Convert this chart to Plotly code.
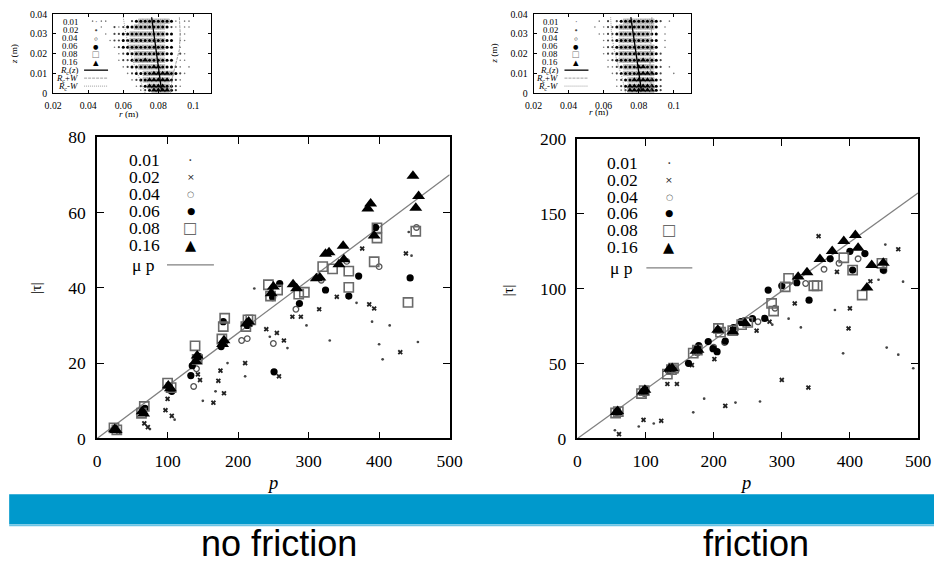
import plotly.graph_objects as go

# ---------------- data: main plots (p, |tau|) ----------------
SERIES = ["0.01", "0.02", "0.04", "0.06", "0.08", "0.16"]

# no friction
NF_P_001 = [33, 75, 110, 150, 168, 185, 210, 223, 245, 270, 297, 330, 368, 390, 400, 405, 415, 442, 446, 455]
NF_T_001 = [1.3, 2.5, 5.0, 10.0, 12.5, 20.0, 16.5, 39.8, 27.0, 24.0, 30.0, 26.0, 36.0, 31.0, 25.0, 21.0, 30.0, 54.8, 48.5, 25.6]
NF_P_002 = [30, 67, 72, 97, 100, 106, 143, 146, 165, 172, 175, 180, 210, 240, 255, 265, 258, 277, 289, 315, 340, 376, 386, 393, 430, 438]
NF_T_002 = [1.8, 4.0, 3.0, 7.5, 10.5, 6.0, 17.0, 15.5, 9.5, 15.3, 18.0, 12.0, 20.0, 29.0, 28.0, 26.0, 16.5, 32.3, 32.3, 34.3, 37.6, 50.4, 35.6, 34.5, 22.9, 49.1]
NF_P_004 = [27, 66, 103, 137, 141, 181, 205, 213, 250, 282, 318, 354, 400, 453]
NF_T_004 = [2.4, 7.0, 12.8, 13.8, 18.5, 25.5, 26.0, 26.5, 25.2, 34.3, 42.0, 47.0, 45.6, 56.0]
NF_P_006 = [26, 65, 68, 102, 106, 133, 135, 145, 176, 179, 213, 216, 249, 251, 259, 287, 324, 357, 371, 395, 444]
NF_T_006 = [2.6, 7.5, 8.0, 13.8, 12.5, 16.7, 19.3, 21.7, 24.4, 31.0, 30.0, 30.5, 37.4, 17.7, 41.1, 35.8, 39.4, 37.8, 43.1, 56.0, 42.6]
NF_P_008 = [24, 28, 63, 67, 100, 105, 139, 142, 177, 179, 181, 211, 214, 218, 243, 246, 256, 286, 294, 320, 334, 357, 357, 393, 397, 397, 441, 452]
NF_T_008 = [2.8, 2.3, 6.7, 8.5, 14.7, 13.5, 24.6, 21.0, 26.4, 29.7, 31.9, 29.7, 31.5, 31.5, 40.8, 37.8, 39.4, 38.3, 38.8, 45.6, 45.0, 44.4, 40.1, 46.9, 55.9, 53.2, 36.1, 55.0]
NF_P_016 = [25, 27, 64, 66, 101, 104, 140, 142, 178, 180, 212, 215, 247, 250, 278, 283, 311, 316, 324, 329, 343, 349, 350, 384, 388, 393, 448, 452, 456]
NF_T_016 = [2.5, 2.2, 7.2, 6.6, 14.0, 13.3, 20.5, 22.0, 25.0, 26.0, 30.5, 31.0, 38.5, 40.3, 40.9, 39.8, 42.5, 42.7, 49.0, 49.4, 46.2, 51.1, 47.5, 61.0, 62.3, 53.8, 69.7, 61.2, 64.3]
MU_NF = 0.14

# friction
FR_P_001 = [55, 90, 112, 170, 186, 232, 268, 286, 310, 328, 378, 390, 442, 452, 454, 471, 478, 493]
FR_T_001 = [5.5, 8.0, 10.0, 17.5, 26.6, 24.0, 24.7, 76.0, 80.0, 74.2, 85.8, 56.9, 106.0, 129.5, 60.7, 56.0, 104.7, 46.9]
FR_P_002 = [61, 97, 123, 132, 146, 168, 201, 217, 263, 282, 300, 319, 339, 354, 381, 398, 400, 430, 471]
FR_T_002 = [2.9, 12.4, 11.8, 36.4, 36.4, 49.0, 53.0, 21.8, 72.0, 78.0, 39.1, 90.2, 34.0, 135.1, 111.3, 73.5, 86.9, 105.0, 126.4]
FR_P_004 = [60, 98, 137, 145, 176, 200, 216, 232, 265, 290, 335, 362, 384, 412, 450]
FR_T_004 = [16.5, 30.0, 44.5, 45.5, 57.0, 61.0, 64.0, 73.0, 78.0, 87.0, 103.5, 113.0, 117.0, 120.0, 112.0]
FR_P_006 = [58, 97, 100, 134, 163, 175, 178, 192, 199, 205, 207, 217, 229, 240, 257, 275, 280, 300, 322, 340, 371, 400, 404, 422, 449]
FR_T_006 = [17.5, 31.5, 33.0, 45.0, 50.2, 60.0, 62.0, 64.7, 60.0, 58.0, 72.5, 65.0, 74.0, 78.0, 80.0, 80.2, 99.1, 102.0, 104.0, 92.4, 120.0, 125.0, 112.5, 123.5, 112.5]
FR_P_008 = [56, 60, 94, 98, 132, 138, 141, 170, 176, 207, 210, 228, 241, 250, 285, 288, 305, 310, 347, 352, 391, 404, 418, 447]
FR_T_008 = [17.0, 18.0, 30.0, 32.0, 43.0, 46.0, 47.0, 57.0, 59.0, 73.5, 71.0, 72.0, 76.0, 77.5, 90.2, 85.1, 101.3, 106.9, 102.0, 102.0, 120.7, 112.5, 95.8, 117.0]
FR_P_016 = [57, 59, 96, 99, 135, 139, 174, 177, 206, 228, 246, 324, 337, 356, 374, 391, 408, 412, 425, 432, 449]
FR_T_016 = [17.5, 18.2, 31.3, 32.5, 46.4, 47.0, 58.5, 59.1, 72.5, 71.3, 77.0, 108.0, 110.9, 119.8, 125.1, 131.8, 135.8, 127.3, 100.7, 115.8, 117.3]
MU_FR = 0.328
P_LINE = [0, 500]

# ---------------- data: insets (r, z grid) ----------------
R_COLS = [0.0425, 0.045, 0.0475, 0.05, 0.0525, 0.055, 0.0575, 0.06, 0.0625, 0.065, 0.0675, 0.07,
          0.0725, 0.075, 0.0775, 0.08, 0.0825, 0.085, 0.0875, 0.09, 0.0925, 0.095, 0.0975, 0.1]
Z_ROWS = [0.0365, 0.0335, 0.0300, 0.0267, 0.0233, 0.0200, 0.0167, 0.0133, 0.0100, 0.0067, 0.0035, 0.0015]
# '1','2','4','6' single class; '8' = 0.06+0.08 ; 'T' = 0.08+0.16
NF_GRID = [
    "1 11     26888888861 11 ",
    "  1  212668888888621 11 ",
    "   1 22668888888866 11  ",
    "    122668888888866 11  ",
    "     12668888888866 1   ",
    "      1266888888866 21  ",
    "      122688T888866 11  ",
    "       1266888TT86621 1 ",
    "        126688TTTT8621  ",
    "         1268TTTTT621   ",
    "          126TTTT8621   ",
    "           126TTTT62    ",
]
FR_GRID = [
    "      1 2 26888888862 1 ",
    "     1 1226888888886 1  ",
    "      11226888888866 1  ",
    "       1226888888866 1  ",
    "       1226888888886 1  ",
    "       12268888888862   ",
    "        12688888T8862   ",
    "        1126888TT8862 1 ",
    "         126888TTTT62  1",
    "          1268TTTTT62   ",
    "          126TTTTTT62   ",
    "           12TTTTTT62   ",
]
NF_RC_R = [0.0762, 0.0775, 0.0790, 0.0805, 0.0818]
NF_RC_Z = [0.0385, 0.0300, 0.0200, 0.0100, 0.0015]
NF_RP_R = [0.0920, 0.0925, 0.0920, 0.0900, 0.0880, 0.0870]
NF_RM_R = [0.0600, 0.0615, 0.0635, 0.0660, 0.0690, 0.0725]
FR_RC_R = [0.0755, 0.0768, 0.0785, 0.0800, 0.0815]
FR_RC_Z = [0.0385, 0.0300, 0.0200, 0.0100, 0.0015]
FR_RP_R = [0.0875, 0.0872, 0.0868, 0.0865, 0.0870, 0.0870]
FR_RM_R = [0.0640, 0.0645, 0.0660, 0.0680, 0.0705, 0.0725]
W_Z = [0.0385, 0.0300, 0.0220, 0.0150, 0.0080, 0.0000]

# ---------------- styling ----------------
# The page is photographed with an 8px body margin and slightly scaled; positions below
# are given in picture pixels and converted to paper fractions.
W, H = 947, 575
OX, OY = 8, 8
SX, SY = 0.978, 0.967
FS = 1.03
SERIF = "Liberation Serif, Times New Roman, serif"
SYM = "DejaVu Sans, sans-serif"


def px(x):
    return (x / SX - OX) / W


def py(y):
    return 1 - (y / SY - OY) / H


def f(s):
    return round(s * FS, 2)


MAIN_STYLE = {
    "0.01": dict(symbol="circle", size=2.7, color="#444444", line=dict(width=0)),
    "0.02": dict(symbol="x", size=4.6, color="#222222", line=dict(width=0)),
    "0.04": dict(symbol="circle-open", size=5.6, color="#555555", line=dict(width=1.3, color="#555555")),
    "0.06": dict(symbol="circle", size=7.2, color="black", line=dict(width=0)),
    "0.08": dict(symbol="square-open", size=9.2, color="#6a6a6a", line=dict(width=1.6, color="#6a6a6a")),
    "0.16": dict(symbol="triangle-up", size=11.3, color="black", line=dict(width=0)),
}
INSET_STYLE = {
    "1": dict(symbol="circle", size=1.6, color="#777777", line=dict(width=0)),
    "2": dict(symbol="circle", size=2.2, color="#444444", line=dict(width=0)),
    "4": dict(symbol="circle-open", size=2.8, color="#666666", line=dict(width=0.8, color="#666666")),
    "6": dict(symbol="circle", size=3.0, color="black", line=dict(width=0)),
    "8": dict(symbol="square", size=4.5, color="rgba(160,160,160,0.5)", line=dict(width=0.5, color="#999999")),
    "T": dict(symbol="triangle-up", size=5.3, color="black", line=dict(width=0)),
}

fig = go.Figure()

main_data = [
    ("x", "y", [(NF_P_001, NF_T_001), (NF_P_002, NF_T_002), (NF_P_004, NF_T_004),
                (NF_P_006, NF_T_006), (NF_P_008, NF_T_008), (NF_P_016, NF_T_016)], MU_NF),
    ("x2", "y2", [(FR_P_001, FR_T_001), (FR_P_002, FR_T_002), (FR_P_004, FR_T_004),
                  (FR_P_006, FR_T_006), (FR_P_008, FR_T_008), (FR_P_016, FR_T_016)], MU_FR),
]
for xa, ya, sets, mu in main_data:
    fig.add_trace(go.Scatter(x=P_LINE, y=[mu * p for p in P_LINE], mode="lines",
                             line=dict(color="#808080", width=1.3), xaxis=xa, yaxis=ya,
                             showlegend=False, hoverinfo="skip"))
    for name, (xs, ys) in zip(SERIES, sets):
        fig.add_trace(go.Scatter(x=xs, y=ys, mode="markers", marker=MAIN_STYLE[name],
                                 xaxis=xa, yaxis=ya, showlegend=False, name=name))


def grid_points(grid):
    pts = {k: ([], []) for k in "12468T"}
    for z, row in zip(Z_ROWS, grid):
        for r, ch in zip(R_COLS, row):
            if ch == " ":
                continue
            keys = {"8": ["6", "8"], "T": ["8", "T"]}.get(ch, [ch])
            for k in keys:
                pts[k][0].append(r)
                pts[k][1].append(z)
    return pts


inset_data = [
    ("x3", "y3", NF_GRID, NF_RC_R, NF_RC_Z, NF_RP_R, NF_RM_R),
    ("x4", "y4", FR_GRID, FR_RC_R, FR_RC_Z, FR_RP_R, FR_RM_R),
]
for xa, ya, grid, rc_r, rc_z, rp_r, rm_r in inset_data:
    pts = grid_points(grid)
    for k in ["1", "2", "4", "8", "6", "T"]:
        xs, ys = pts[k]
        if xs:
            fig.add_trace(go.Scatter(x=xs, y=ys, mode="markers", marker=INSET_STYLE[k],
                                     xaxis=xa, yaxis=ya, showlegend=False))
    fig.add_trace(go.Scatter(x=rp_r, y=W_Z, mode="lines", line=dict(color="#888888", width=0.8, dash="3px,1px"),
                             xaxis=xa, yaxis=ya, showlegend=False))
    fig.add_trace(go.Scatter(x=rm_r, y=W_Z, mode="lines", line=dict(color="#888888", width=0.8, dash="1px,1px"),
                             xaxis=xa, yaxis=ya, showlegend=False))
    fig.add_trace(go.Scatter(x=rc_r, y=rc_z, mode="lines", line=dict(color="black", width=1.3),
                             xaxis=xa, yaxis=ya, showlegend=False))

main_ax = dict(showline=True, linecolor="black", linewidth=1.5, mirror="ticks", ticks="inside",
               ticklen=7, tickwidth=1.2, tickcolor="black", showgrid=False, zeroline=False,
               tickfont=dict(family=SERIF, size=f(17), color="black"), fixedrange=True)
inset_ax = dict(showline=True, linecolor="black", linewidth=1, mirror="ticks", ticks="inside",
                ticklen=3, tickwidth=0.8, tickcolor="black", showgrid=False, zeroline=False,
                tickfont=dict(family=SERIF, size=f(9.5), color="black"), fixedrange=True)

X_TICKS = [0, 100, 200, 300, 400, 500]
R_TICKS = [0.02, 0.04, 0.06, 0.08, 0.1]
R_TICK_TEXT = ["0.02", "0.04", "0.06", "0.08", "0.1"]
Z_TICKS = [0, 0.01, 0.02, 0.03, 0.04]
Z_TICK_TEXT = ["0", "0.01", "0.02", "0.03", "0.04"]

fig.update_layout(
    width=W, height=H, margin=dict(l=0, r=0, t=0, b=0), autosize=False,
    paper_bgcolor="white", plot_bgcolor="white", showlegend=False,
    xaxis=dict(main_ax, domain=[px(96), px(449)], range=[0, 500], tickvals=X_TICKS, anchor="y",
               ticklabelstandoff=6),
    yaxis=dict(main_ax, domain=[py(437), py(135)], range=[0, 80], tickvals=[0, 20, 40, 60, 80],
               anchor="x", ticklabelstandoff=6),
    xaxis2=dict(main_ax, domain=[px(577), px(918)], range=[0, 500], tickvals=X_TICKS, anchor="y2",
                ticklabelstandoff=6),
    yaxis2=dict(main_ax, domain=[py(437), py(137)], range=[0, 200], tickvals=[0, 50, 100, 150, 200],
                anchor="x2", ticklabelstandoff=6),
    xaxis3=dict(inset_ax, domain=[px(52), px(210)], range=[0.02, 0.11], tickvals=R_TICKS,
                ticktext=R_TICK_TEXT, anchor="y3", ticklabelstandoff=3),
    yaxis3=dict(inset_ax, domain=[py(91), py(12)], range=[0, 0.04], tickvals=Z_TICKS,
                ticktext=Z_TICK_TEXT, anchor="x3", ticklabelstandoff=3),
    xaxis4=dict(inset_ax, domain=[px(533), px(691)], range=[0.02, 0.11], tickvals=R_TICKS,
                ticktext=R_TICK_TEXT, anchor="y4", ticklabelstandoff=3),
    yaxis4=dict(inset_ax, domain=[py(91), py(12)], range=[0, 0.04], tickvals=Z_TICKS,
                ticktext=Z_TICK_TEXT, anchor="x4", ticklabelstandoff=3),
)

shapes = []
annotations = []


def ann(x, y, text, size, family=SERIF, xanchor="center", color="black", angle=0):
    annotations.append(dict(x=px(x), y=py(y), xref="paper", yref="paper", text=text, showarrow=False,
                            xanchor=xanchor, yanchor="middle", textangle=angle,
                            font=dict(family=family, size=f(size), color=color)))


# main-plot legends (text + sample glyphs)
GLYPHS = [("·", 14, "#444444"), ("×", 9, "#222222"), ("○", 8, "#555555"),
          ("●", 9, "black"), ("□", 15, "#6a6a6a"), ("▲", 14, "black")]
for tx, sx, lx0, lx1, rows, mu_y in [(126, 190, 166, 213, [158, 175, 192, 209, 226, 243], 263),
                                     (605, 669, 646, 692, [161, 178, 195, 211, 228, 245], 266)]:
    for name, yy, (g, gs, gc) in zip(SERIES, rows, GLYPHS):
        ann(tx, yy, name, 17, xanchor="left")
        ann(sx, yy, g, gs, family=SYM, color=gc)
    ann(tx + 30, mu_y, "μ p", 17, xanchor="right")
    shapes.append(dict(type="line", xref="paper", yref="paper", x0=px(lx0), x1=px(lx1),
                       y0=py(mu_y), y1=py(mu_y), line=dict(color="#808080", width=1.3)))

# inset legends
IGLYPHS = [("·", 8, "#777777"), ("•", 7, "#444444"), ("∘", 9, "#666666"),
           ("●", 6, "black"), ("□", 8, "#777777"), ("▲", 7, "black")]
RLAB = ["<i>R</i><sub>c</sub>(<i>z</i>)", "<i>R</i><sub>c</sub>+<i>W</i>", "<i>R</i><sub>c</sub>-<i>W</i>"]
RDASH = [("black", 1.3, "solid"), ("#888888", 0.8, "3px,1px"), ("#888888", 0.8, "1px,1px")]
for off in [0, 481]:
    rows = [20, 28, 36, 44, 52, 60]
    for name, yy, (g, gs, gc) in zip(SERIES, rows, IGLYPHS):
        ann(79 + off, yy, name, 8.5, xanchor="right")
        ann(95 + off, yy, g, gs, family=SYM, color=gc)
    for lab, yy, (c, wdt, d) in zip(RLAB, [68, 76, 84], RDASH):
        ann(79 + off, yy, lab, 8.5, xanchor="right")
        shapes.append(dict(type="line", xref="paper", yref="paper", x0=px(83 + off), x1=px(107 + off),
                           y0=py(yy), y1=py(yy), line=dict(color=c, width=wdt, dash=d)))
    ann(13 + off, 52, "<i>z</i> (m)", 9, angle=-90)
ann(127, 112, "<i>r</i> (m)", 9)
ann(598, 110, "<i>r</i> (m)", 9)

# main axis titles
ann(35, 286, "|τ|", 14, angle=-90)
ann(507, 289, "|τ|", 14, angle=-90)
ann(272, 481, "<i>p</i>", 18)
ann(745, 481, "<i>p</i>", 18)

# blue bar and captions
shapes.append(dict(type="rect", xref="paper", yref="paper", x0=px(8), x1=1.0, y0=py(523), y1=py(493),
                   fillcolor="#0099CC", line=dict(width=0), layer="above"))
shapes.append(dict(type="rect", xref="paper", yref="paper", x0=px(8), x1=1.0, y0=py(525), y1=py(523),
                   fillcolor="#6CC4E4", line=dict(width=0), layer="above"))
ann(278, 542, "no friction", 35, family="Liberation Sans, Arial, sans-serif")
ann(756, 542, "friction", 35, family="Liberation Sans, Arial, sans-serif")

fig.update_layout(shapes=shapes, annotations=annotations)
fig.write_html("out.html", config={"displayModeBar": False})
